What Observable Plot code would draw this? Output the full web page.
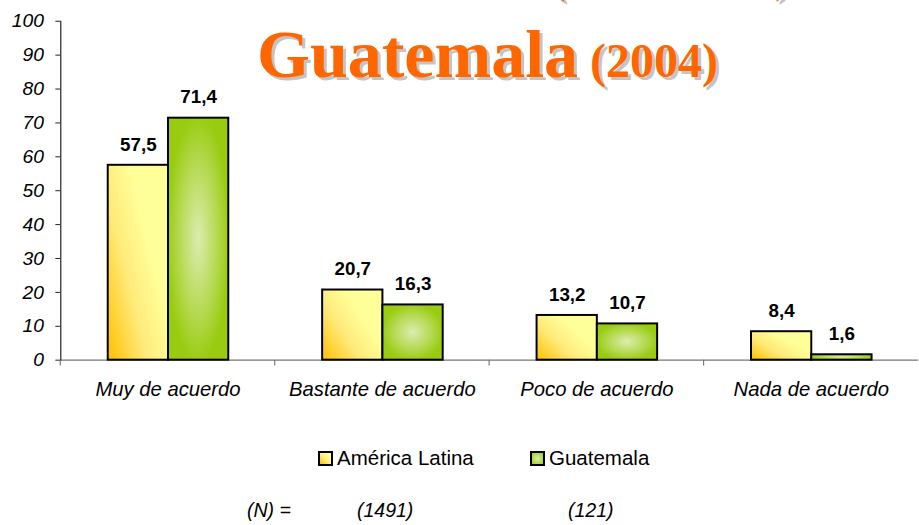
<!DOCTYPE html>
<html>
<head>
<meta charset="utf-8">
<script src="https://cdn.jsdelivr.net/npm/d3@7"></script>
<script src="https://cdn.jsdelivr.net/npm/@observablehq/plot@0.6"></script>
<style>
  html, body { margin: 0; padding: 0; background: #fff; overflow: hidden; }
  #wrap { position: relative; width: 919px; height: 525px; overflow: hidden; background: #fff; }
  #chart { position: absolute; left: 0; top: 0; }
  .title { position: absolute; font-family: "Liberation Serif", "Times New Roman", serif; font-weight: bold; color: #FF6600; text-shadow: 3px 3px 0 #c4c4c4; white-space: nowrap; line-height: 1; }
  .legend-item { position: absolute; display: flex; align-items: center; font-family: "Liberation Sans", Arial, sans-serif; font-size: 20.5px; color: #000; white-space: nowrap; }
  .sw { width: 11px; height: 11px; border: 2px solid #000; margin-right: 4px; }
  .sw.al { background: linear-gradient(45deg, #FFC000 0%, #FFEE80 45%, #FFFF99 80%); }
  .sw.gt { background: radial-gradient(#DCECB0 0%, #B6DA55 60%, #99CC00 100%); }
  .nlab { position: absolute; font-family: "Liberation Sans", Arial, sans-serif; font-style: italic; font-size: 19.5px; color: #000; white-space: nowrap; }
</style>
</head>
<body>
<div id="wrap">
  <div id="chart"></div>
  <div class="title" id="topline" style="left:549px; top:-51px; font-size:50px;">(<span style="font-size:31px">América Latina</span>)</div>
  <div class="title" id="title" style="left:257px; top:20px; font-size:68px;">Guatemala<span style="font-size:48px"> (2004)</span></div>
  <div id="legend"></div>
  <div id="nrow"></div>
</div>
<script>
// ---- data ----
const categories = ["Muy de acuerdo", "Bastante de acuerdo", "Poco de acuerdo", "Nada de acuerdo"];
const seriesNames = ["América Latina", "Guatemala"];
const americaLatina = [57.5, 20.7, 13.2, 8.4];
const guatemala = [71.4, 16.3, 10.7, 1.6];
const yTicks = [0, 10, 20, 30, 40, 50, 60, 70, 80, 90, 100];
const nLabel = "(N) =";
const nValues = ["(1491)", "(121)"];

const rows = [];
categories.forEach((c, i) => {
  rows.push({cat: c, series: seriesNames[0], value: americaLatina[i]});
  rows.push({cat: c, series: seriesNames[1], value: guatemala[i]});
});

const fmt = v => v.toFixed(1).replace(".", ",");

function boundaryTicks(index, scales, values, dims) {
  const y0 = scales.y(0);
  const g = d3.create("svg:g");
  g.append("line")
    .attr("x1", dims.marginLeft).attr("x2", dims.marginLeft)
    .attr("y1", y0).attr("y2", y0 + 6)
    .attr("stroke", "#777").attr("stroke-width", 1.2);
  return g.node();
}

const svg = Plot.plot({
  width: 930,
  height: 410,
  marginLeft: 60,
  marginRight: 0,
  marginTop: 21,
  marginBottom: 46,
  style: {fontFamily: "'Liberation Sans', Arial, sans-serif", fontSize: "18px", color: "#000", background: "transparent", overflow: "visible"},
  fx: {domain: categories, padding: 0, label: null},
  x: {domain: seriesNames, paddingInner: 0, paddingOuter: 0.753, axis: null},
  y: {domain: [0, 100], label: null},
  color: {domain: seriesNames, range: ["url(#gradAL)", "url(#gradGT)"]},
  marks: [
    Plot.ruleY([0], {stroke: "#777", strokeWidth: 1.2}),
    Plot.frame({anchor: "left", facetAnchor: "left", stroke: "#222", strokeWidth: 1.2}),
    Plot.axisY({ticks: yTicks, tickSize: 5, tickPadding: 12, label: null, fontStyle: "italic", fontSize: 19.5, stroke: "#222"}),
    Plot.axisFx({anchor: "bottom", tickSize: 0, tickPadding: 22, label: null, fontStyle: "italic", fontSize: 20.5}),
    boundaryTicks,
    Plot.barY(rows, {fx: "cat", x: "series", y: "value", fill: "series", stroke: "#000", strokeWidth: 2}),
    Plot.text(rows, {fx: "cat", x: "series", y: "value", text: d => fmt(d.value), dy: -21, fontWeight: "bold", fontSize: 19, fill: "#000"})
  ]
});

// gradients for bar fills
const defs = d3.select(svg).insert("defs", ":first-child");
const lg = defs.append("linearGradient").attr("id", "gradAL")
  .attr("x1", 0).attr("y1", 1).attr("x2", 0.9).attr("y2", 0.3);
lg.append("stop").attr("offset", "0%").attr("stop-color", "#FFC000");
lg.append("stop").attr("offset", "45%").attr("stop-color", "#FFEA7A");
lg.append("stop").attr("offset", "80%").attr("stop-color", "#FFFF99");
const rg = defs.append("radialGradient").attr("id", "gradGT")
  .attr("cx", 0.5).attr("cy", 0.5).attr("r", 0.6);
rg.append("stop").attr("offset", "0%").attr("stop-color", "#DCECB0");
rg.append("stop").attr("offset", "55%").attr("stop-color", "#B3D84C");
rg.append("stop").attr("offset", "85%").attr("stop-color", "#99CC11");

document.getElementById("chart").appendChild(svg);

// legend
const legend = document.getElementById("legend");
const legendLeft = [318, 530];
seriesNames.forEach((s, i) => {
  const item = document.createElement("div");
  item.className = "legend-item";
  item.style.left = legendLeft[i] + "px";
  item.style.top = "446px";
  const sw = document.createElement("div");
  sw.className = "sw " + (i === 0 ? "al" : "gt");
  item.appendChild(sw);
  item.appendChild(document.createTextNode(s));
  legend.appendChild(item);
});

// N row
const nrow = document.getElementById("nrow");
const nLeft = [247, 357, 568];
[nLabel, ...nValues].forEach((t, i) => {
  const d = document.createElement("div");
  d.className = "nlab";
  d.style.left = nLeft[i] + "px";
  d.style.top = "499px";
  d.textContent = t;
  nrow.appendChild(d);
});
</script>
</body>
</html>
